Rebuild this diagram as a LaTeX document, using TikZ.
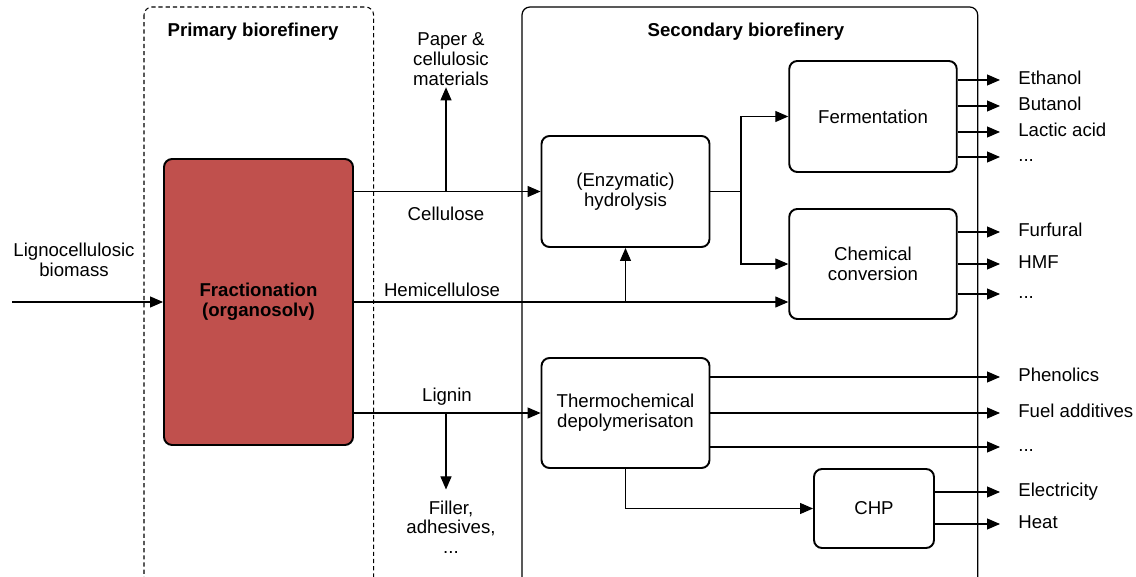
\documentclass[tikz,border=0pt]{standalone}
\usepackage{fontspec}
\setmainfont{Liberation Sans}
\usetikzlibrary{arrows.meta}
\definecolor{fracred}{RGB}{192,80,77}
\newcommand{\etcdots}{...}

\begin{document}
\begin{tikzpicture}[x=0.02cm,y=-0.02cm,
  every node/.style={font=\fontsize{10.6}{11.2}\selectfont},
  proc/.style={draw,line width=1.1pt,rounded corners=0.16cm,align=center},
  flow/.style={line width=0.6pt,-{Triangle[length=0.26cm,width=0.22cm]}},
  txt/.style={align=center,inner sep=1pt},
  outlbl/.style={anchor=west,inner xsep=0.36cm,inner ysep=1pt,text height=7.6pt,text depth=2pt}]
  \useasboundingbox (0,0) rectangle (1136,577);
  % the two biorefinery frames
  \draw[line width=0.6pt,dash pattern=on 2.4pt off 1.7pt,rounded corners=0.16cm] (144,7) rectangle (373.6,592);
  \draw[line width=0.7pt,rounded corners=0.16cm] (522,7) rectangle (977.7,592);
  \node[font=\fontsize{10.6}{11.2}\selectfont\bfseries] (ptitle) at (253,32) {Primary biorefinery};
  \node[font=\fontsize{10.6}{11.2}\selectfont\bfseries] (stitle) at (746,32) {Secondary biorefinery};

  % process boxes
  \node[proc,fill=fracred,minimum width=3.78cm,minimum height=5.72cm,font=\fontsize{10.6}{11.2}\selectfont\bfseries] (frac) at (258.5,302) {Fractionation\\(organosolv)};
  \node[proc,minimum width=3.36cm,minimum height=2.22cm] (hyd) at (625.5,191.5) {(Enzymatic)\\hydrolysis};
  \node[proc,minimum width=3.35cm,minimum height=2.22cm] (ferm) at (873,116.5) {Fermentation};
  \node[proc,minimum width=3.35cm,minimum height=2.2cm] (chem) at (873,264) {Chemical\\conversion};
  \node[proc,minimum width=3.36cm,minimum height=2.2cm] (thermo) at (625.5,413) {Thermochemical\\depolymerisaton};
  \node[proc,minimum width=2.4cm,minimum height=1.58cm] (chp) at (874,508.5) {CHP};

  % feed and fractions
  \node[txt] (biomass) at (74,260) {Lignocellulosic\\biomass};
  \coordinate (src) at (12,302);
  \draw[flow] (src) -- (frac.west);
  \coordinate (cellsplit) at (446,191.5);
  \coordinate (lignsplit) at (446,413);
  \node[txt] (paper) at (451,59) {Paper \&\\cellulosic\\materials};
  \node[txt] (filler) at (451,527) {Filler,\\adhesives,\\...};
  \node[txt] (cell) at (446,214) {Cellulose};
  \node[txt] (hemi) at (442,290) {Hemicellulose};
  \node[txt] (lign) at (447,397) {Lignin};
  \draw[flow] (frac.east |- hyd.west) -- (hyd.west);
  \draw[flow] (cellsplit) -- (cellsplit |- paper.south);
  \draw[flow] (frac.east) -- (frac.east -| chem.west);
  \draw[flow] (hyd.south |- frac.east) -- (hyd.south);
  \draw[flow] (frac.east |- thermo.west) -- (thermo.west);
  \draw[flow,shorten >=0.18cm] (lignsplit) -- (lignsplit |- filler.north);

  % secondary routes
  \coordinate (split) at (741,191.5);
  \draw[line width=0.6pt] (hyd.east) -- (split);
  \draw[flow] (split) |- (ferm.west);
  \draw[flow] (split) |- (chem.west);
  \draw[flow] (thermo.south) |- (chp.west);

  % products
  \foreach \y/\lab [count=\i] in {80/Ethanol,106/Butanol,132/Lactic acid,157/\etcdots} {
    \node[outlbl] (fp\i) at (1000,\y) {\lab};
    \draw[flow] (ferm.east |- fp\i.west) -- (fp\i.west);
  }
  \foreach \y/\lab [count=\i] in {232/Furfural,264/HMF,294/\etcdots} {
    \node[outlbl] (cp\i) at (1000,\y) {\lab};
    \draw[flow] (chem.east |- cp\i.west) -- (cp\i.west);
  }
  \foreach \y/\lab [count=\i] in {377/Phenolics,413/Fuel additives,447/\etcdots} {
    \node[outlbl] (tp\i) at (1000,\y) {\lab};
    \draw[flow] (thermo.east |- tp\i.west) -- (tp\i.west);
  }
  \foreach \y/\lab [count=\i] in {492/Electricity,524/Heat} {
    \node[outlbl] (ep\i) at (1000,\y) {\lab};
    \draw[flow] (chp.east |- ep\i.west) -- (ep\i.west);
  }
\end{tikzpicture}
\end{document}
